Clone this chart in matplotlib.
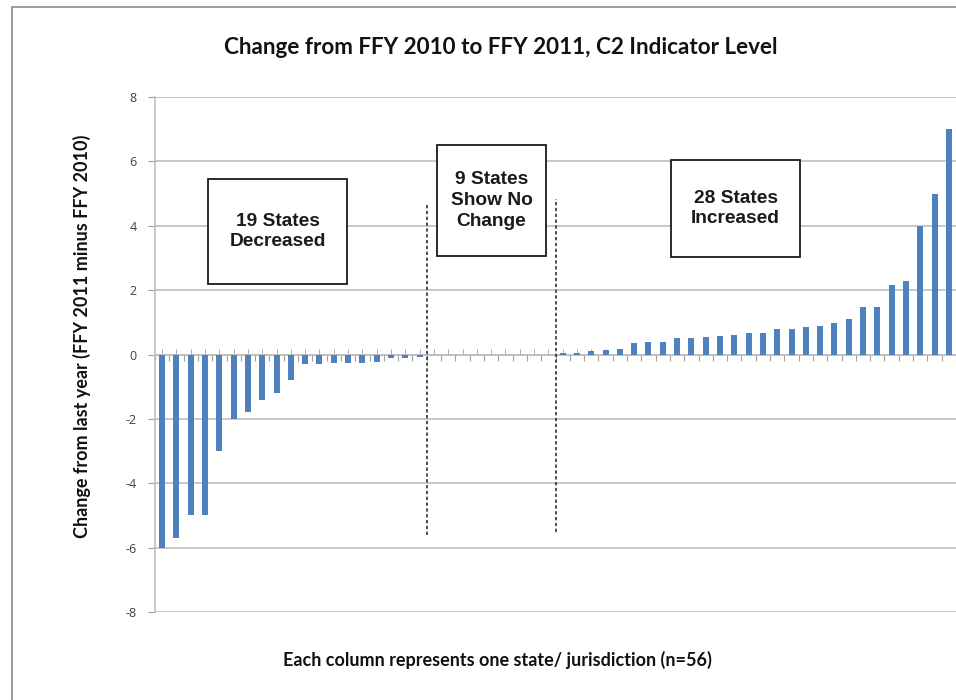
import matplotlib
matplotlib.use("Agg")
import matplotlib.pyplot as plt
from matplotlib.patches import Rectangle
import numpy as np

decreased = [-6.0, -5.7, -5.0, -5.0, -3.0, -2.0, -1.8, -1.4, -1.2, -0.8,
             -0.3, -0.3, -0.27, -0.25, -0.25, -0.22, -0.12, -0.1, -0.08]
no_change = [0, 0, 0, 0, 0, 0, 0, 0, 0]
increased = [0.06, 0.06, 0.1, 0.13, 0.18, 0.37, 0.38, 0.38, 0.5, 0.5,
             0.54, 0.58, 0.6, 0.68, 0.68, 0.79, 0.79, 0.85, 0.89, 0.99,
             1.09, 1.48, 1.48, 2.17, 2.28, 4.0, 5.0, 7.0]
values = decreased + no_change + increased
y_ticks = [-8, -6, -4, -2, 0, 2, 4, 6, 8]

title = "Change from FFY 2010 to FFY 2011, C2 Indicator Level"
ylabel = "Change from last year (FFY 2011 minus FFY 2010)"
xlabel = "Each column represents one state/ jurisdiction (n=56)"
box_texts = ["19 States\nDecreased", "9 States\nShow No\nChange", "28 States\nIncreased"]

W, H = 956, 700
fig = plt.figure(figsize=(W / 100, H / 100), dpi=100)
ax = fig.add_axes([155 / W, 1 - 612 / H, 801 / W, (612 - 97) / H])

n = len(values)
x = np.arange(n)
ax.bar(x, values, width=0.42, color="#4F81BD", zorder=3)
ax.set_xlim(-0.5, n - 0.5)
ax.set_ylim(-8, 8)
ax.set_yticks(y_ticks)
ax.set_yticklabels([str(t) for t in y_ticks], fontsize=9, color="#404040", family="Open Sans")
ax.yaxis.grid(True, color="#BFBFBF", linewidth=1.2, zorder=0)
ax.tick_params(axis="y", length=5, color="#A0A0A0", pad=8)

for s in ["top", "right"]:
    ax.spines[s].set_visible(False)
ax.spines["left"].set_color("#BFBFBF")
ax.spines["left"].set_linewidth(1.2)
ax.spines["bottom"].set_position(("data", 0))
ax.spines["bottom"].set_color("#BFBFBF")
ax.spines["bottom"].set_linewidth(1.2)
ax.spines["bottom"].set_zorder(2)
ax.set_xticks(np.arange(-0.5, n, 1.0))
ax.set_xticklabels([])
ax.set_xticks(x, minor=True)
ax.tick_params(axis="x", which="major", direction="out", length=4, color="#A0A0A0")
ax.tick_params(axis="x", which="minor", direction="in", length=4, color="#A0A0A0")

# dashed separators
ax.plot([18.5, 18.5], [-5.62, 4.63], linestyle=(0, (2, 1.5)), color="#303030", lw=1.2, zorder=4)
ax.plot([27.5, 27.5], [-5.5, 4.84], linestyle=(0, (2, 1.5)), color="#303030", lw=1.2, zorder=4)

fig.text(0.5 * (222 + 780) / W, 1 - 48 / H, title, ha="center", va="center",
         fontsize=16.2, fontweight="bold", family="Lato", color="#111111")
fig.text(82 / W, 1 - 336 / H, ylabel, ha="center", va="center", rotation=90,
         fontsize=13, fontweight="bold", family="Lato", color="#111111")
fig.text(0.5 * (280 + 715) / W, 1 - 660 / H, xlabel, ha="center", va="center",
         fontsize=13, fontweight="bold", family="Lato", color="#111111")

boxes = [(208, 179, 347, 284), (437, 145, 546, 256), (671, 160, 800, 257)]
for (x0, y0, x1, y1), t in zip(boxes, box_texts):
    fig.patches.append(Rectangle((x0 / W, 1 - y1 / H), (x1 - x0) / W, (y1 - y0) / H,
                                 transform=fig.transFigure, facecolor="white",
                                 edgecolor="#1a1a1a", lw=1.3, zorder=5))
    fig.text((x0 + x1) / 2 / W, 1 - (y0 + y1) / 2 / H, t, ha="center", va="center",
             fontsize=13.8, fontweight="bold", family="Liberation Sans", color="#1a1a1a",
             linespacing=1.3, zorder=6)

# outer chart border
fig.patches.append(Rectangle((12 / W, -0.05), 1.2, 1 - 7 / H + 0.05,
                             transform=fig.transFigure, facecolor="none",
                             edgecolor="#8c8c8c", lw=1.2, zorder=0))

fig.savefig("out.png", dpi=100)
